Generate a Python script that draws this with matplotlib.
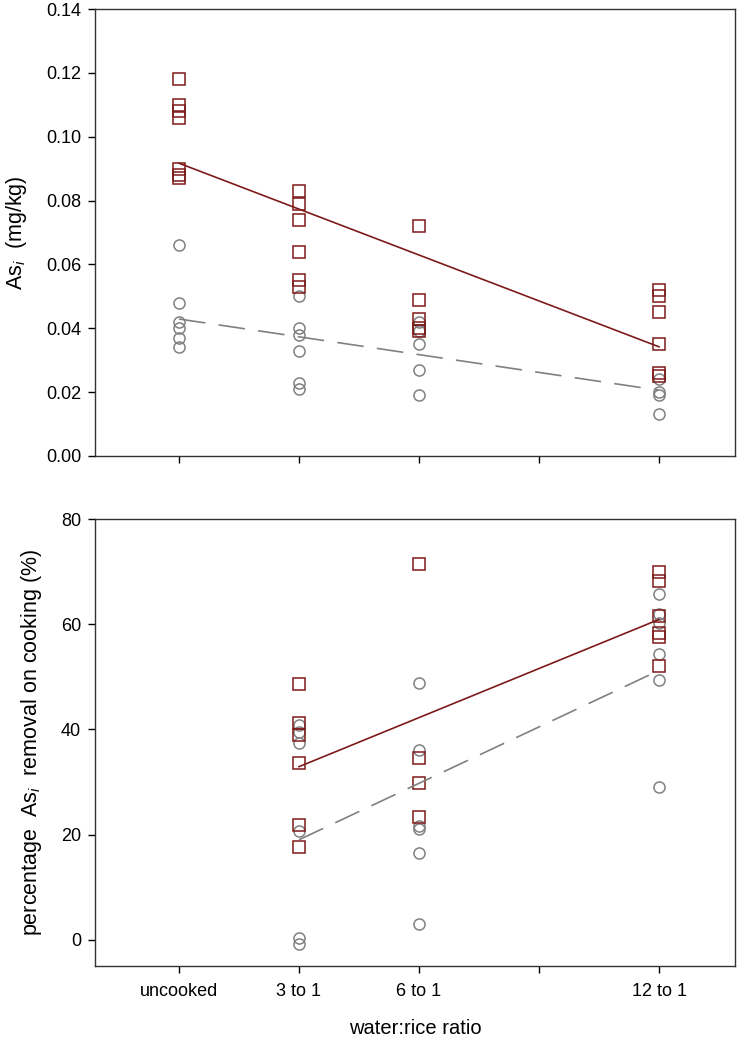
import matplotlib.pyplot as plt
from matplotlib.ticker import FormatStrFormatter

# ==========================================
# DATA
# ==========================================
RATIO_X = [0, 3, 6, 12]
RATIO_LABELS = ['uncooked', '3 to 1', '6 to 1', '12 to 1']
TICK_X = [0, 3, 6, 9, 12]
TICK_LABELS = ['uncooked', '3 to 1', '6 to 1', '', '12 to 1']

# top panel: inorganic As content (mg/kg), squares (red) and circles (grey)
asi_squares = [
    [0.118, 0.110, 0.108, 0.106, 0.090, 0.088, 0.087],
    [0.083, 0.079, 0.074, 0.064, 0.055, 0.053],
    [0.072, 0.049, 0.043, 0.040, 0.039],
    [0.052, 0.050, 0.045, 0.035, 0.026, 0.025],
]
asi_circles = [
    [0.066, 0.048, 0.042, 0.040, 0.037, 0.034],
    [0.050, 0.040, 0.038, 0.033, 0.023, 0.021],
    [0.042, 0.039, 0.035, 0.027, 0.019],
    [0.024, 0.020, 0.019, 0.013],
]
asi_fit_x = [0, 12]
asi_square_fit = [0.0917, 0.0342]
asi_circle_fit = [0.0429, 0.0206]

# bottom panel: percentage removal on cooking
removal_x = [3, 6, 12]
removal_squares = [
    [48.6, 41.3, 39.0, 33.6, 21.8, 17.7],
    [71.4, 34.5, 29.8, 23.4],
    [70.0, 68.2, 61.6, 58.3, 57.6, 52.1],
]
removal_circles = [
    [40.8, 39.5, 37.4, 20.7, 0.3, -0.8],
    [48.8, 36.0, 21.6, 21.0, 16.5, 3.0],
    [65.7, 61.9, 60.2, 54.3, 49.4, 29.1],
]
removal_fit_x = [3, 12]
removal_square_fit = [32.9, 60.9]
removal_circle_fit = [19.0, 51.2]

# ==========================================
# STYLE
# ==========================================
RED = '#7d1a1a'
GREY = '#808080'
plt.rcParams['font.family'] = ['Liberation Sans', 'DejaVu Sans']
plt.rcParams['mathtext.fontset'] = 'custom'
plt.rcParams['mathtext.rm'] = 'Liberation Sans'
plt.rcParams['mathtext.it'] = 'Liberation Sans:italic'

fig = plt.figure(figsize=(7.4, 10.44), dpi=100)
ax_top = fig.add_axes([95/740, 1 - 456/1044, 640/740, 447/1044])
ax_bot = fig.add_axes([95/740, 1 - 966/1044, 640/740, 447/1044])


def draw_points(ax, xs, groups, marker, color, size):
    for x, vals in zip(xs, groups):
        ax.plot([x] * len(vals), vals, linestyle='none', marker=marker,
                markersize=size, markerfacecolor='none',
                markeredgecolor=color, markeredgewidth=1.1)


# top panel
draw_points(ax_top, RATIO_X, asi_circles, 'o', GREY, 8)
draw_points(ax_top, RATIO_X, asi_squares, 's', RED, 8.5)
ax_top.plot(asi_fit_x, asi_square_fit, color=RED, lw=1.2)
ax_top.plot(asi_fit_x, asi_circle_fit, color=GREY, lw=1.2, dashes=(16, 8))
ax_top.set_ylim(0, 0.14)
ax_top.set_yticks([0, 0.02, 0.04, 0.06, 0.08, 0.10, 0.12, 0.14])
ax_top.yaxis.set_major_formatter(FormatStrFormatter('%.2f'))
ax_top.set_ylabel(r'As$_{i}$  (mg/kg)', fontsize=15.5, labelpad=12)
ax_top.set_xticks(TICK_X)
ax_top.set_xticklabels([])

# bottom panel
draw_points(ax_bot, removal_x, removal_circles, 'o', GREY, 8)
draw_points(ax_bot, removal_x, removal_squares, 's', RED, 8.5)
ax_bot.plot(removal_fit_x, removal_square_fit, color=RED, lw=1.2)
ax_bot.plot(removal_fit_x, removal_circle_fit, color=GREY, lw=1.2, dashes=(16, 8))
ax_bot.set_ylim(-5, 80)
ax_bot.set_yticks([0, 20, 40, 60, 80])
ax_bot.set_ylabel(r'percentage  As$_{i}$  removal on cooking (%)', fontsize=15.5, labelpad=12)
ax_bot.set_xticks(TICK_X)
ax_bot.set_xticklabels(TICK_LABELS)
ax_bot.set_xlabel('water:rice ratio', fontsize=14.5, labelpad=14)

for ax in (ax_top, ax_bot):
    ax.set_xlim(-2.1, 13.9)
    ax.tick_params(direction='out', length=5, width=1, labelsize=13, pad=5)
    ax.tick_params(axis='x', pad=7)
    for sp in ax.spines.values():
        sp.set_color('#333333')
        sp.set_linewidth(1.0)

fig.savefig('out.png', dpi=100)
